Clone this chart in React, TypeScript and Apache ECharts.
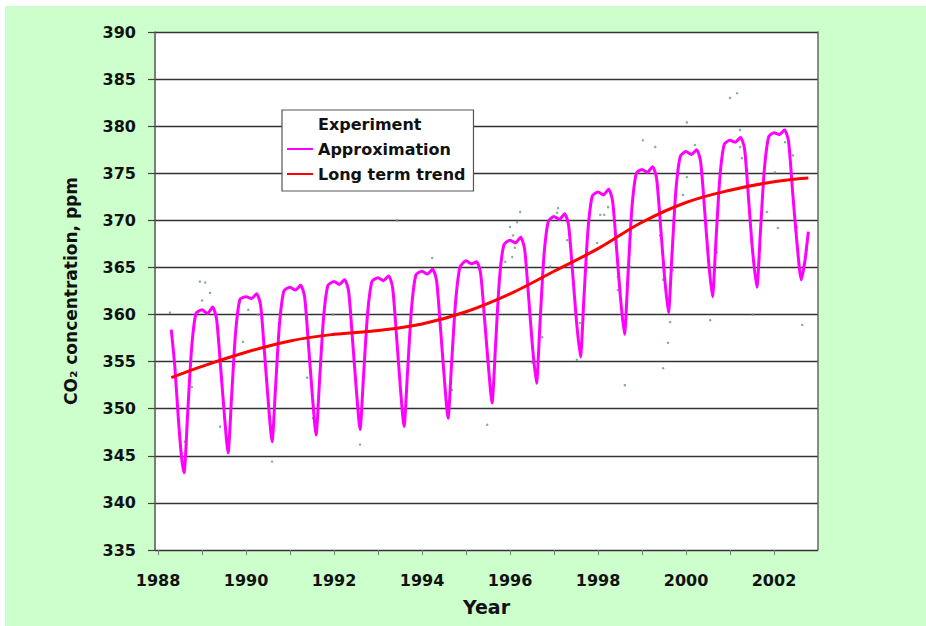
import React, { useEffect, useRef } from "react";
import * as echarts from "echarts";

// Approximation (seasonal curve): [year, ppm]
const approximation: [number, number][] = [
  [1988.3, 358.4], [1988.38, 354.5], [1988.46, 349.0], [1988.53, 345.0], [1988.59, 343.2],
  [1988.67, 349.3], [1988.76, 356.3], [1988.86, 360.1], [1989.0, 360.5], [1989.12, 360.1], [1989.24, 360.8], [1989.33, 359.5], [1989.42, 354.5], [1989.51, 349.2], [1989.59, 345.3],
  [1989.67, 351.2], [1989.76, 358.0], [1989.86, 361.6], [1990.0, 361.9], [1990.12, 361.7], [1990.24, 362.2], [1990.33, 361.0], [1990.42, 355.9], [1990.51, 350.4], [1990.59, 346.5],
  [1990.67, 352.3], [1990.76, 359.0], [1990.86, 362.5], [1991.0, 362.9], [1991.12, 362.6], [1991.24, 363.1], [1991.33, 361.9], [1991.42, 356.7], [1991.51, 351.2], [1991.59, 347.2],
  [1991.67, 353.0], [1991.76, 359.6], [1991.86, 363.1], [1992.0, 363.5], [1992.12, 363.2], [1992.24, 363.7], [1992.33, 362.5], [1992.42, 357.3], [1992.51, 351.8], [1992.59, 347.8],
  [1992.67, 353.5], [1992.76, 360.0], [1992.86, 363.5], [1993.0, 363.9], [1993.12, 363.6], [1993.24, 364.1], [1993.33, 362.9], [1993.42, 357.7], [1993.51, 352.1], [1993.59, 348.1],
  [1993.67, 353.9], [1993.76, 360.6], [1993.86, 364.2], [1994.0, 364.6], [1994.12, 364.3], [1994.24, 364.8], [1994.33, 363.6], [1994.42, 358.5], [1994.51, 353.0], [1994.59, 349.0],
  [1994.67, 354.7], [1994.76, 361.2], [1994.86, 365.0], [1995.0, 365.7], [1995.12, 365.4], [1995.24, 365.6], [1995.33, 364.4], [1995.42, 359.6], [1995.51, 354.4], [1995.59, 350.6],
  [1995.67, 356.7], [1995.76, 363.8], [1995.86, 367.4], [1996.0, 367.9], [1996.12, 367.6], [1996.24, 368.2], [1996.33, 367.0], [1996.42, 362.0], [1996.51, 356.6], [1996.6, 352.7],
  [1996.68, 359.0], [1996.77, 366.2], [1996.87, 369.9], [1997.0, 370.4], [1997.12, 370.1], [1997.24, 370.7], [1997.33, 369.5], [1997.42, 364.6], [1997.51, 359.3], [1997.6, 355.5],
  [1997.68, 361.8], [1997.77, 368.9], [1997.87, 372.6], [1998.0, 373.0], [1998.12, 372.7], [1998.24, 373.3], [1998.33, 372.1], [1998.42, 367.1], [1998.51, 361.8], [1998.6, 357.9],
  [1998.68, 364.1], [1998.77, 371.3], [1998.87, 375.0], [1999.0, 375.4], [1999.12, 375.1], [1999.24, 375.7], [1999.33, 374.5], [1999.42, 369.5], [1999.51, 364.1], [1999.6, 360.2],
  [1999.68, 366.3], [1999.77, 373.2], [1999.87, 376.8], [2000.0, 377.3], [2000.12, 377.0], [2000.24, 377.5], [2000.33, 376.3], [2000.42, 371.3], [2000.51, 365.8], [2000.6, 361.9],
  [2000.68, 367.8], [2000.77, 374.6], [2000.87, 378.1], [2001.0, 378.5], [2001.12, 378.3], [2001.24, 378.8], [2001.33, 377.6], [2001.42, 372.4], [2001.51, 366.9], [2001.61, 362.9],
  [2001.69, 368.7], [2001.78, 375.4], [2001.88, 378.9], [2002.0, 379.3], [2002.12, 379.1], [2002.24, 379.6], [2002.33, 378.4], [2002.42, 373.2], [2002.52, 367.7], [2002.62, 363.7],
  [2002.7, 365.6], [2002.78, 368.8],
];

// Long term trend
const trend: [number, number][] = [
  [1988.3, 353.3], [1989.0, 354.5], [1990.0, 356.0], [1991.0, 357.2], [1992.0, 357.9],
  [1993.0, 358.3], [1994.0, 359.0], [1995.0, 360.3], [1996.0, 362.2], [1997.0, 364.6],
  [1998.0, 367.0], [1999.0, 369.8], [2000.0, 371.9], [2001.0, 373.2], [2002.0, 374.1], [2002.78, 374.5],
];

// Experiment (measured points)
const experiment: [number, number][] = [
  [1988.27, 360.2], [1988.95, 363.5], [1989.07, 363.4], [1989.18, 362.3], [1989.0, 361.5],
  [1988.77, 352.3], [1988.55, 345.3], [1988.61, 346.5], [1990.59, 344.4], [1989.41, 348.1],
  [1989.93, 357.1], [1990.05, 360.5], [1990.27, 360.0], [1991.39, 353.3], [1991.52, 349.0],
  [1991.98, 360.0], [1992.59, 346.2], [1993.43, 370.0], [1994.23, 366.0], [1994.68, 352.0],
  [1995.48, 348.3], [1996.23, 370.9], [1996.16, 369.8], [1996.0, 369.3], [1996.07, 368.4],
  [1996.11, 367.1], [1996.05, 366.1], [1995.89, 365.6], [1996.68, 358.7], [1996.73, 357.6],
  [1996.5, 354.9], [1997.52, 355.2], [1997.59, 359.1], [1997.09, 371.3], [1997.07, 370.8],
  [1997.3, 367.9], [1997.36, 367.6], [1996.91, 365.1], [1998.05, 370.6], [1998.14, 370.6],
  [1998.23, 371.4], [1997.98, 367.6], [1998.73, 365.1], [1998.45, 364.0], [1998.45, 362.6],
  [1998.61, 352.5], [1999.02, 378.5], [1999.3, 377.8], [1999.48, 354.3], [1999.59, 357.0],
  [1999.64, 359.2], [1999.48, 363.7], [1999.41, 368.4], [1999.7, 364.7], [2001.16, 383.5],
  [2001.0, 383.0], [2000.02, 380.4], [2000.2, 378.0], [2000.02, 374.6], [1999.93, 372.7],
  [2001.23, 379.6], [2001.23, 377.8], [2001.27, 376.6], [2001.39, 375.4], [2000.73, 371.1],
  [2000.7, 366.6], [2000.55, 359.4], [2002.02, 375.1], [2001.84, 370.9], [2002.09, 369.2],
  [2002.43, 376.9], [2002.25, 378.3], [2002.52, 369.3], [2002.75, 366.9], [2002.64, 358.9],
  [2001.52, 360.0],
];

const xLabelYears = [1988, 1990, 1992, 1994, 1996, 1998, 2000, 2002];
const xTickYears = [1988, 1989, 1990, 1991, 1992, 1993, 1994, 1995, 1996, 1997, 1998, 1999, 2000, 2001, 2002];

const FONT = "DejaVu Sans";

export default function App() {
  const ref = useRef<HTMLDivElement>(null);
  useEffect(() => {
    if (!ref.current) return;
    const chart = echarts.init(ref.current, null, { renderer: "svg" });
    chart.setOption({
      animation: false,
      backgroundColor: "#ccffcc",
      grid: {
        left: 150,
        right: 108,
        top: 26,
        bottom: 76,
        show: true,
        backgroundColor: "#ffffff",
        borderWidth: 0,
      },
      legend: {
        orient: "vertical",
        left: 277,
        top: 104,
        backgroundColor: "#ffffff",
        borderColor: "#555555",
        borderWidth: 1.2,
        padding: [5, 8, 8, 5],
        itemWidth: 26,
        itemHeight: 2,
        itemGap: 7,
        textStyle: { fontFamily: FONT, fontWeight: "bold", fontSize: 16, color: "#111", lineHeight: 18 },
        data: [
          { name: "Experiment", icon: "rect", itemStyle: { opacity: 0 } },
          { name: "Approximation", icon: "rect" },
          { name: "Long term trend", icon: "rect" },
        ],
      },
      xAxis: [
        {
          type: "value",
          min: 1987.93,
          max: 2003.0,
          name: "Year",
          nameLocation: "middle",
          nameGap: 47,
          nameTextStyle: { fontFamily: FONT, fontWeight: "bold", fontSize: 19, color: "#111" },
          axisLine: { show: false },
          axisTick: { show: true, customValues: xTickYears, length: 5, lineStyle: { color: "#777" } },
          axisLabel: {
            customValues: xLabelYears,
            margin: 22,
            fontFamily: FONT,
            fontWeight: "bold",
            fontSize: 16,
            color: "#111",
            formatter: (v: number) => String(Math.round(v)),
          },
          splitLine: { show: false },
        },
      ],
      yAxis: [
        {
          type: "value",
          min: 335,
          max: 390,
          interval: 5,
          name: "CO₂ concentration, ppm",
          nameLocation: "middle",
          nameGap: 76,
          nameTextStyle: { fontFamily: FONT, fontWeight: "bold", fontSize: 17, color: "#111" },
          axisLine: { show: true, lineStyle: { color: "#555", width: 1.5 } },
          axisTick: { show: true, length: 7, lineStyle: { color: "#444", width: 1.2 } },
          axisLabel: { margin: 19, fontFamily: FONT, fontWeight: "bold", fontSize: 16, color: "#111" },
          splitLine: { show: true, lineStyle: { color: "#333333", width: 1.4 } },
        },
        {
          type: "value",
          position: "right",
          min: 335,
          max: 390,
          interval: 5,
          axisLine: { show: true, lineStyle: { color: "#666", width: 1.5 } },
          axisTick: { show: false },
          axisLabel: { show: false },
          splitLine: { show: false },
        },
      ],
      series: [
        {
          name: "Experiment",
          type: "scatter",
          data: experiment,
          symbol: "circle",
          symbolSize: 2.5,
          itemStyle: { color: "#5f9f85", opacity: 0.8 },
          z: 1,
        },
        {
          name: "Approximation",
          type: "line",
          data: approximation,
          showSymbol: false,
          symbol: "none",
          smooth: 0.22,
          lineStyle: { color: "#ff00ff", width: 3 },
          itemStyle: { color: "#ff00ff" },
          z: 2,
        },
        {
          name: "Long term trend",
          type: "line",
          data: trend,
          showSymbol: false,
          symbol: "none",
          smooth: 0.4,
          lineStyle: { color: "#ff0000", width: 3 },
          itemStyle: { color: "#ff0000" },
          z: 3,
        },
      ],
    });
    return () => chart.dispose();
  }, []);
  return (
    <div style={{ position: "absolute", left: 0, top: 0, width: 926, height: 626, background: "#ffffff" }}>
      <div ref={ref} style={{ position: "absolute", left: 5, top: 6, width: 921, height: 620 }} />
    </div>
  );
}
